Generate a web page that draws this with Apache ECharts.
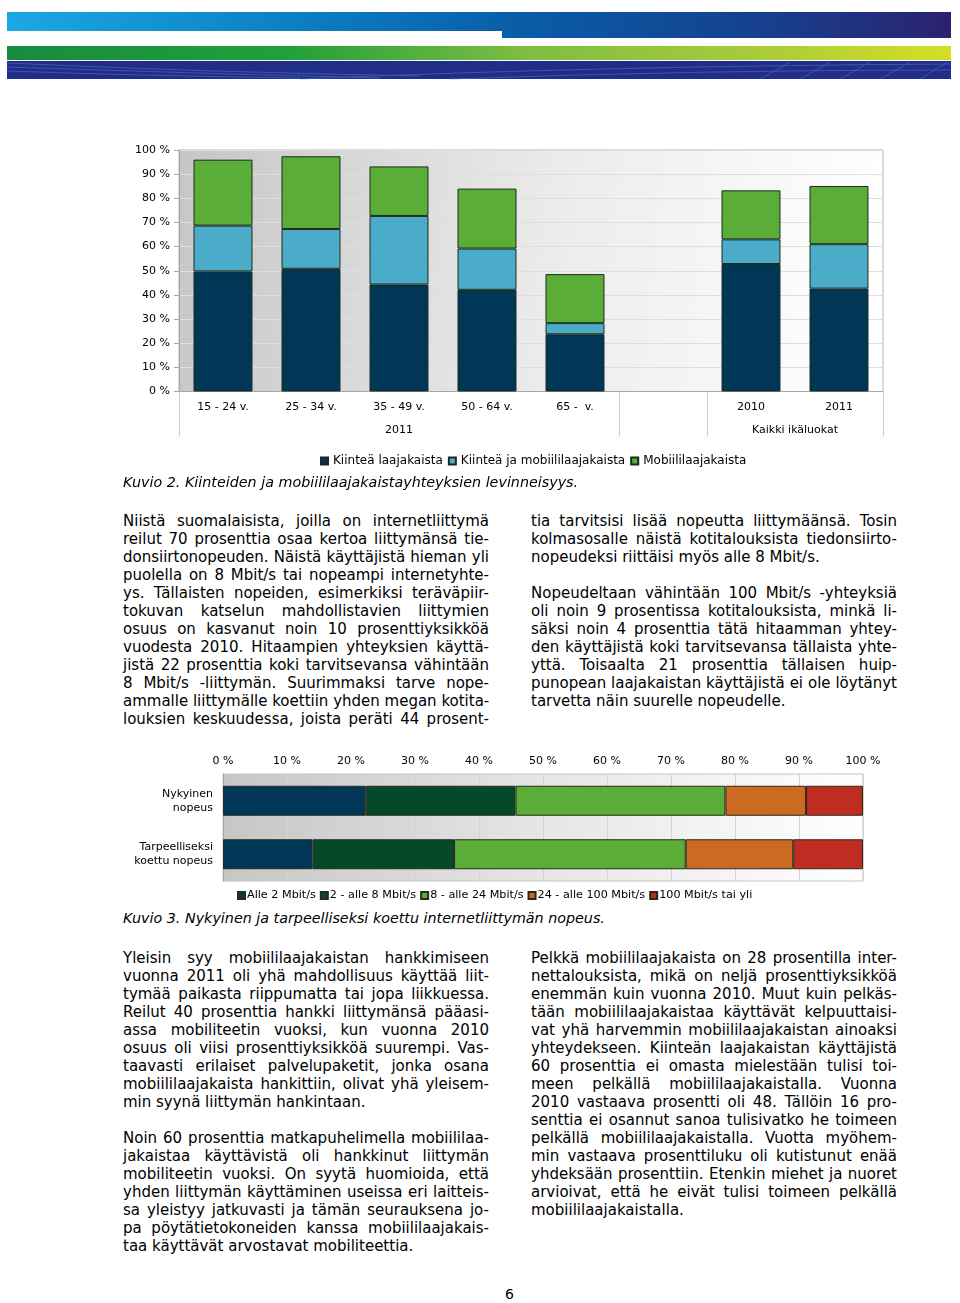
<!DOCTYPE html>
<html><head><meta charset="utf-8">
<script src="https://cdn.jsdelivr.net/npm/echarts@6/dist/echarts.min.js"></script>
<style>
body{margin:0;width:960px;height:1303px;position:relative;background:#fff;font-family:"DejaVu Sans",Verdana,sans-serif;overflow:hidden;color:#000}
.col{position:absolute;width:366px;font-size:15px;line-height:18px}
.col div{white-space:nowrap;text-align:justify;text-align-last:justify;height:18px}
.col div.l{text-align-last:left}
.col div.gap{height:18px}
.cap{position:absolute;left:123px;font-style:italic;font-size:14.3px;line-height:18px;white-space:nowrap}
#c1{position:absolute;left:0;top:140px;width:960px;height:335px}
#c2{position:absolute;left:0;top:740px;width:960px;height:165px}
</style></head>
<body>
<svg style="position:absolute;left:0;top:0" width="960" height="90">
<defs>
<linearGradient id="gb" x1="0" x2="1" y1="0" y2="0">
<stop offset="0" stop-color="#1ca8e4"/><stop offset="0.3" stop-color="#0b80c4"/><stop offset="0.55" stop-color="#095ca6"/><stop offset="0.8" stop-color="#16408e"/><stop offset="1" stop-color="#2b226f"/>
</linearGradient>
<linearGradient id="gg" x1="0" x2="1" y1="0" y2="0">
<stop offset="0" stop-color="#168c3e"/><stop offset="0.3" stop-color="#22a03a"/><stop offset="0.55" stop-color="#7fbd42"/><stop offset="0.8" stop-color="#a9cc3a"/><stop offset="1" stop-color="#d4df22"/>
</linearGradient>
</defs>
<polygon points="7,12 951,12 951,38 502,38 502,31 7,31" fill="url(#gb)"/>
<rect x="7" y="46" width="944" height="14" fill="url(#gg)"/>
<rect x="7" y="61" width="944" height="18" fill="#1f2e88"/>
<g stroke="#5d74cc" stroke-width="1" fill="none" opacity="0.55">
<path d="M7,63 Q200,72 420,76"/><path d="M7,67 Q220,74 380,78"/><path d="M7,71 Q150,76 300,78"/>
<path d="M300,79 Q600,66 951,64"/><path d="M450,79 Q700,70 951,70"/>
<path d="M760,79 L790,62"/><path d="M800,79 L830,62"/><path d="M840,79 L870,62"/><path d="M880,79 L910,62"/><path d="M920,79 L948,62"/>
</g>
</svg>

<div id="c1"></div>
<div class="cap" style="top:473px">Kuvio 2. Kiinteiden ja mobiililaajakaistayhteyksien levinneisyys.</div>

<div class="col" style="left:123px;top:512px">
<div>Niistä suomalaisista, joilla on internetliittymä</div>
<div>reilut 70 prosenttia osaa kertoa liittymänsä tie-</div>
<div>donsiirtonopeuden. Näistä käyttäjistä hieman yli</div>
<div>puolella on 8 Mbit/s tai nopeampi internetyhte-</div>
<div>ys. Tällaisten nopeiden, esimerkiksi teräväpiir-</div>
<div>tokuvan katselun mahdollistavien liittymien</div>
<div>osuus on kasvanut noin 10 prosenttiyksikköä</div>
<div>vuodesta 2010. Hitaampien yhteyksien käyttä-</div>
<div>jistä 22 prosenttia koki tarvitsevansa vähintään</div>
<div>8 Mbit/s -liittymän. Suurimmaksi tarve nope-</div>
<div>ammalle liittymälle koettiin yhden megan kotita-</div>
<div>louksien keskuudessa, joista peräti 44 prosent-</div>
</div>
<div class="col" style="left:531px;top:512px">
<div>tia tarvitsisi lisää nopeutta liittymäänsä. Tosin</div>
<div>kolmasosalle näistä kotitalouksista tiedonsiirto-</div>
<div class="l">nopeudeksi riittäisi myös alle 8 Mbit/s.</div>
<div class="gap"></div>
<div>Nopeudeltaan vähintään 100 Mbit/s -yhteyksiä</div>
<div>oli noin 9 prosentissa kotitalouksista, minkä li-</div>
<div>säksi noin 4 prosenttia tätä hitaamman yhtey-</div>
<div>den käyttäjistä koki tarvitsevansa tällaista yhte-</div>
<div>yttä. Toisaalta 21 prosenttia tällaisen huip-</div>
<div>punopean laajakaistan käyttäjistä ei ole löytänyt</div>
<div class="l">tarvetta näin suurelle nopeudelle.</div>
</div>

<div id="c2"></div>
<div class="cap" style="top:909px">Kuvio 3. Nykyinen ja tarpeelliseksi koettu internetliittymän nopeus.</div>

<div class="col" style="left:123px;top:949px">
<div>Yleisin syy mobiililaajakaistan hankkimiseen</div>
<div>vuonna 2011 oli yhä mahdollisuus käyttää liit-</div>
<div>tymää paikasta riippumatta tai jopa liikkuessa.</div>
<div>Reilut 40 prosenttia hankki liittymänsä pääasi-</div>
<div>assa mobiliteetin vuoksi, kun vuonna 2010</div>
<div>osuus oli viisi prosenttiyksikköä suurempi. Vas-</div>
<div>taavasti erilaiset palvelupaketit, jonka osana</div>
<div>mobiililaajakaista hankittiin, olivat yhä yleisem-</div>
<div class="l">min syynä liittymän hankintaan.</div>
<div class="gap"></div>
<div>Noin 60 prosenttia matkapuhelimella mobiililaa-</div>
<div>jakaistaa käyttävistä oli hankkinut liittymän</div>
<div>mobiliteetin vuoksi. On syytä huomioida, että</div>
<div>yhden liittymän käyttäminen useissa eri laitteis-</div>
<div>sa yleistyy jatkuvasti ja tämän seurauksena jo-</div>
<div>pa pöytätietokoneiden kanssa mobiililaajakais-</div>
<div class="l">taa käyttävät arvostavat mobiliteettia.</div>
</div>
<div class="col" style="left:531px;top:949px">
<div>Pelkkä mobiililaajakaista on 28 prosentilla inter-</div>
<div>nettalouksista, mikä on neljä prosenttiyksikköä</div>
<div>enemmän kuin vuonna 2010. Muut kuin pelkäs-</div>
<div>tään mobiililaajakaistaa käyttävät kelpuuttaisi-</div>
<div>vat yhä harvemmin mobiililaajakaistan ainoaksi</div>
<div>yhteydekseen. Kiinteän laajakaistan käyttäjistä</div>
<div>60 prosenttia ei omasta mielestään tulisi toi-</div>
<div>meen pelkällä mobiililaajakaistalla. Vuonna</div>
<div>2010 vastaava prosentti oli 48. Tällöin 16 pro-</div>
<div>senttia ei osannut sanoa tulisivatko he toimeen</div>
<div>pelkällä mobiililaajakaistalla. Vuotta myöhem-</div>
<div>min vastaava prosenttiluku oli kutistunut enää</div>
<div>yhdeksään prosenttiin. Etenkin miehet ja nuoret</div>
<div>arvioivat, että he eivät tulisi toimeen pelkällä</div>
<div class="l">mobiililaajakaistalla.</div>
</div>
<div style="position:absolute;left:505px;top:1286px;font-size:14px">6</div>

<script>
// ---- Chart 1 data ----
const ageCats = ['15 - 24 v.', '25 - 34 v.', '35 - 49 v.', '50 - 64 v.', '65 -  v.', '', '2010', '2011'];
const fixedBroadband = [49.7, 50.8, 44.3, 42.1, 23.7, null, 52.8, 42.6];
const fixedAndMobile = [19.0, 16.5, 28.4, 17.1, 4.6, null, 10.2, 18.4];
const mobileOnly = [27.3, 30.1, 20.5, 24.8, 20.3, null, 20.3, 24.1];
const seriesNames1 = ['Kiinteä laajakaista', 'Kiinteä ja mobiililaajakaista', 'Mobiililaajakaista'];
const groupLabelPos = [2.5, 7];
const groupLabelText = ['2011', 'Kaikki ikäluokat'];
const groupBounds = [0, 5, 6, 8];

// ---- Chart 2 data ----
const speedRows = ['Nykyinen\nnopeus', 'Tarpeelliseksi\nkoettu nopeus'];
const under2 = [22.3, 14.0];
const from2to8 = [23.4, 22.1];
const from8to24 = [32.8, 36.2];
const from24to100 = [12.6, 16.8];
const over100 = [8.9, 10.9];
const seriesNames2 = ['Alle 2 Mbit/s', '2 - alle 8 Mbit/s', '8 - alle 24 Mbit/s', '24 - alle 100 Mbit/s', '100 Mbit/s tai yli'];

const FONT = 'DejaVu Sans';
const bgGrad = new echarts.graphic.LinearGradient(0, 0, 1, 0.3, [
  {offset: 0, color: '#c6c6c6'}, {offset: 0.55, color: '#ececec'}, {offset: 1, color: '#ffffff'}
]);
const bgGrad2 = new echarts.graphic.LinearGradient(0, 0, 1, 0, [
  {offset: 0, color: '#c6c6c6'}, {offset: 0.5, color: '#e6e6e6'}, {offset: 1, color: '#ffffff'}
]);

const c1 = echarts.init(document.getElementById('c1'), null, {renderer: 'canvas'});
const colors1 = ['#003756', '#4aacc8', '#5aad36'];
c1.setOption({
  animation: false,
  textStyle: {fontFamily: FONT},
  legend: {
    data: seriesNames1, left: 315, top: 310, icon: 'rect', itemWidth: 7, itemHeight: 7, itemGap: 5,
    textStyle: {fontFamily: FONT, fontSize: 12, color: '#000'}
  },
  grid: {left: 179, top: 10, width: 704, height: 241.5, show: true, backgroundColor: bgGrad, borderColor: '#b4b4b4', borderWidth: 1},
  xAxis: [{
    type: 'category', data: ageCats, position: 'bottom',
    axisLine: {lineStyle: {color: '#a6a6a6'}}, axisTick: {show: false},
    axisLabel: {interval: 0, margin: 10, fontSize: 11, color: '#000', fontFamily: FONT}
  }, {
    type: 'value', min: 0, max: 8, position: 'bottom',
    axisLine: {show: false}, splitLine: {show: false},
    axisTick: {show: true, customValues: groupBounds, length: 45, lineStyle: {color: '#cfcfcf'}},
    axisLabel: {customValues: groupLabelPos, margin: 33, fontSize: 11, color: '#000', fontFamily: FONT,
      formatter: v => groupLabelText[groupLabelPos.indexOf(v)] || ''}
  }],
  yAxis: {
    type: 'value', min: 0, max: 100, interval: 10,
    axisLine: {show: true, lineStyle: {color: '#a6a6a6'}},
    axisTick: {show: true, length: 5, lineStyle: {color: '#a6a6a6'}},
    axisLabel: {formatter: '{value} %', margin: 9, fontSize: 11, color: '#000', fontFamily: FONT, padding: [2, 0, 0, 0]},
    splitLine: {lineStyle: {color: '#dedede'}}
  },
  series: [fixedBroadband, fixedAndMobile, mobileOnly].map((d, i) => ({
    name: seriesNames1[i], type: 'bar', stack: 'a', data: d, barWidth: '67%',
    itemStyle: {color: colors1[i], borderColor: '#1b2a1b', borderWidth: 1}
  }))
});

const c2 = echarts.init(document.getElementById('c2'), null, {renderer: 'canvas'});
const colors2 = ['#003756', '#03492a', '#5aad36', '#cc6a22', '#bf2c22'];
c2.setOption({
  animation: false,
  textStyle: {fontFamily: FONT},
  legend: {
    data: seriesNames2, left: 232, top: 145, icon: 'rect', itemWidth: 7, itemHeight: 7, itemGap: 4,
    textStyle: {fontFamily: FONT, fontSize: 11.2, color: '#000', padding: [0, 0, 0, -3]}
  },
  grid: {left: 223, top: 34, width: 640, height: 107, show: true, backgroundColor: bgGrad2, borderColor: '#c4c4c4', borderWidth: 1},
  xAxis: {
    type: 'value', position: 'top', min: 0, max: 100, interval: 10,
    axisLine: {show: false}, axisTick: {show: false},
    axisLabel: {formatter: '{value} %', margin: 7, fontSize: 11, color: '#000', fontFamily: FONT},
    splitLine: {lineStyle: {color: '#d4d4d4'}}
  },
  yAxis: {
    type: 'category', data: speedRows, inverse: true,
    axisLine: {show: true, lineStyle: {color: '#a6a6a6'}}, axisTick: {show: false},
    axisLabel: {margin: 10, fontSize: 11, lineHeight: 14, color: '#000', fontFamily: FONT, padding: [8, 0, 0, 0]}
  },
  series: [under2, from2to8, from8to24, from24to100, over100].map((d, i) => ({
    name: seriesNames2[i], type: 'bar', stack: 's', data: d, barWidth: 30,
    itemStyle: {color: colors2[i], borderColor: '#2a2a1a', borderWidth: 1}
  }))
});
</script>
</body></html>
